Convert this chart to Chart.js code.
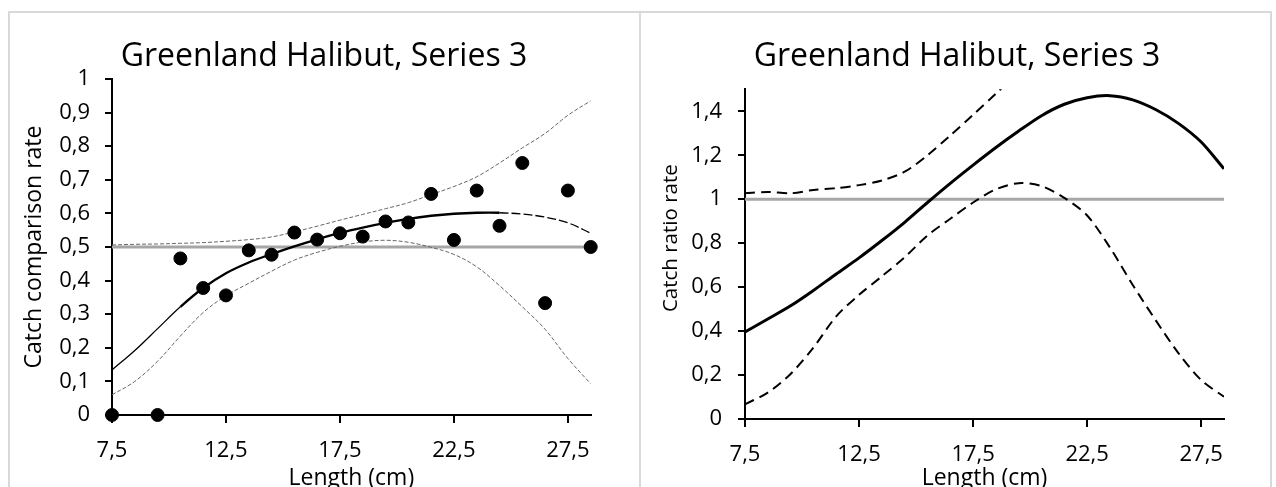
<!DOCTYPE html>
<html><head><meta charset="utf-8">
<script src="https://cdn.jsdelivr.net/npm/chart.js@4.4.1/dist/chart.umd.min.js"></script>
<style>
html,body{margin:0;padding:0;background:#fff;width:1276px;height:487px;overflow:hidden;}
#frame{position:absolute;left:8px;top:11px;width:1260px;height:520px;border:2px solid #d9d9d9;}
#divider{position:absolute;left:639px;top:11px;width:2px;height:520px;background:#d9d9d9;}
canvas{position:absolute;top:13px;}
#c1{left:10px;} #c2{left:643px;}
</style></head><body>
<div id="frame"></div><div id="divider"></div>
<canvas id="c1" width="628" height="474"></canvas>
<canvas id="c2" width="628" height="474"></canvas>
<script>
const chartTitle = 'Greenland Halibut, Series 3';
const xAxisTitle = 'Length (cm)';
const leftYTitle = 'Catch comparison rate';
const rightYTitle = 'Catch ratio rate';

// observed catch comparison rates
const lengthsObs = [7.5, 9.5, 10.5, 11.5, 12.5, 13.5, 14.5, 15.5, 16.5, 17.5, 18.5, 19.5, 20.5, 21.5, 22.5, 23.5, 24.5, 25.5, 26.5, 27.5, 28.5];
const comparisonObs = [0, 0, 0.466, 0.378, 0.356, 0.49, 0.477, 0.543, 0.522, 0.541, 0.531, 0.576, 0.573, 0.658, 0.521, 0.668, 0.563, 0.75, 0.333, 0.668, 0.5];

// curve grid
const lengthGrid = [7.5, 8.5, 9.5, 10.5, 11.5, 12.5, 13.5, 14.5, 15.5, 16.5, 17.5, 18.5, 19.5, 20.5, 21.5, 22.5, 23.5, 24.5, 25.5, 26.5, 27.5, 28.5];
const comparisonFit   = [0.134, 0.192, 0.257, 0.322, 0.378, 0.422, 0.454, 0.479, 0.502, 0.523, 0.542, 0.558, 0.572, 0.584, 0.593, 0.599, 0.602, 0.602, 0.598, 0.589, 0.572, 0.541];
const comparisonUpper = [0.506, 0.508, 0.509, 0.511, 0.513, 0.517, 0.522, 0.53, 0.545, 0.562, 0.58, 0.597, 0.614, 0.632, 0.656, 0.68, 0.709, 0.75, 0.795, 0.838, 0.892, 0.935];
const comparisonLower = [0.06, 0.1, 0.16, 0.235, 0.305, 0.355, 0.392, 0.428, 0.461, 0.484, 0.502, 0.515, 0.52, 0.514, 0.499, 0.478, 0.441, 0.385, 0.322, 0.255, 0.168, 0.093];

const ratioFit   = [0.396, 0.455, 0.515, 0.585, 0.66, 0.733, 0.812, 0.895, 0.985, 1.072, 1.155, 1.235, 1.31, 1.38, 1.432, 1.462, 1.471, 1.452, 1.408, 1.345, 1.26, 1.138];
const ratioUpper = [1.027, 1.033, 1.027, 1.042, 1.05, 1.064, 1.085, 1.125, 1.2, 1.29, 1.384, 1.48, 1.58, null, null, null, null, null, null, null, null, null];
const ratioLower = [0.067, 0.12, 0.205, 0.325, 0.467, 0.565, 0.649, 0.736, 0.835, 0.911, 0.985, 1.045, 1.073, 1.06, 1.006, 0.926, 0.78, 0.61, 0.45, 0.3, 0.177, 0.101];

const xRange = [7.5, 28.5];
const comparisonRef = 0.5;
const ratioRef = 1;

const xTicks = [7.5, 12.5, 17.5, 22.5, 27.5];
const xTickLabels = ['7,5', '12,5', '17,5', '22,5', '27,5'];
const yTicksLeft = [0, 0.1, 0.2, 0.3, 0.4, 0.5, 0.6, 0.7, 0.8, 0.9, 1];
const yTickLabelsLeft = ['0', '0,1', '0,2', '0,3', '0,4', '0,5', '0,6', '0,7', '0,8', '0,9', '1'];
const yTicksRight = [0, 0.2, 0.4, 0.6, 0.8, 1, 1.2, 1.4];
const yTickLabelsRight = ['0', '0,2', '0,4', '0,6', '0,8', '1', '1,2', '1,4'];

const FONT = "'Open Sans', 'DejaVu Sans', sans-serif";
const toXY = (xs, ys) => xs.map((x, i) => ({x: x, y: ys[i]}));

function makeOptions(cfg) {
  return {
    responsive: false,
    animation: false,
    events: [],
    layout: {padding: 0},
    plugins: {
      legend: {display: false},
      tooltip: {enabled: false},
      title: {display: true, text: chartTitle, color: '#000',
        font: {family: FONT, size: 32, weight: 'normal', lineHeight: 1.2},
        padding: {top: cfg.titleTop, bottom: cfg.titleBottom}}
    },
    scales: {
      x: {type: 'linear', min: xRange[0], max: xRange[1], position: 'bottom',
        afterBuildTicks: s => { s.ticks = xTicks.map(v => ({value: v})); },
        afterFit: s => { s.height = cfg.xHeight; },
        ticks: {callback: (v, i) => xTickLabels[i], color: '#000', font: {family: FONT, size: 22}, padding: 15, maxRotation: 0, autoSkip: false},
        grid: {drawOnChartArea: false, drawTicks: true, tickLength: 8, color: '#000', lineWidth: 2},
        border: {display: true, color: '#000', width: 2},
        title: {display: true, text: xAxisTitle, color: '#000', font: {family: FONT, size: 23, lineHeight: 1.2}, padding: {top: 0, bottom: -5}}
      },
      y: {type: 'linear', min: cfg.yMin, max: cfg.yMax, position: 'left',
        afterBuildTicks: s => { s.ticks = cfg.yTicks.map(v => ({value: v})); },
        afterFit: s => { s.width = 102; },
        ticks: {callback: (v, i) => cfg.yLabels[i], color: '#000', font: {family: FONT, size: 22}, padding: cfg.yPad, autoSkip: false},
        grid: {drawOnChartArea: false, drawTicks: true, tickLength: 7, color: '#000', lineWidth: 2},
        border: {display: true, color: '#000', width: 2},
        title: {display: true, text: cfg.yTitle, color: '#000', font: {family: FONT, size: cfg.yTitleSize, lineHeight: 1.2}, padding: {top: cfg.yTitlePad, bottom: 0}}
      },
      yRightSpace: {type: 'linear', position: 'right', display: true, min: 0, max: 1,
        afterFit: s => { s.width = cfg.rightSpace; },
        ticks: {display: false}, grid: {display: false}, border: {display: false}
      }
    }
  };
}

new Chart(document.getElementById('c1'), {
  type: 'line',
  data: {datasets: [
    {label: 'Observed', data: toXY(lengthsObs, comparisonObs), showLine: false, pointRadius: 6.5,
      pointBackgroundColor: '#000', pointBorderColor: '#000', pointBorderWidth: 1, clip: false, xAxisID: 'x', yAxisID: 'y'},
    {label: 'Fit', data: toXY(lengthGrid, comparisonFit), borderColor: '#000', borderWidth: 2, pointRadius: 0, tension: 0.35, xAxisID: 'x', yAxisID: 'y',
      segment: {
        borderWidth: c => (c.p0.parsed.x >= 24.4 || c.p0.parsed.x < 10) ? 1.3 : 2.3,
        borderDash: c => c.p0.parsed.x >= 24.4 ? [9, 3] : undefined
      }},
    {label: 'Upper', data: toXY(lengthGrid, comparisonUpper), borderColor: '#666', borderWidth: 1, borderDash: [4, 2], pointRadius: 0, tension: 0.35, xAxisID: 'x', yAxisID: 'y'},
    {label: 'Lower', data: toXY(lengthGrid, comparisonLower), borderColor: '#666', borderWidth: 1, borderDash: [4, 2], pointRadius: 0, tension: 0.35, xAxisID: 'x', yAxisID: 'y'},
    {label: 'Ref', data: xRange.map(x => ({x: x, y: comparisonRef})), borderColor: '#a6a6a6', borderWidth: 3, pointRadius: 0, xAxisID: 'x', yAxisID: 'y'}
  ]},
  options: makeOptions({titleTop: 25, titleBottom: 2.6, xHeight: 72, yMin: 0, yMax: 1, yTicks: yTicksLeft, yLabels: yTickLabelsLeft,
    yPad: 15, yTitle: leftYTitle, yTitleSize: 23, yTitlePad: 11, rightSpace: 47.3})
});

new Chart(document.getElementById('c2'), {
  type: 'line',
  data: {datasets: [
    {label: 'Fit', data: toXY(lengthGrid, ratioFit), borderColor: '#000', borderWidth: 3, pointRadius: 0, tension: 0.3, xAxisID: 'x', yAxisID: 'y'},
    {label: 'Upper', data: toXY(lengthGrid, ratioUpper), borderColor: '#000', borderWidth: 2, borderDash: [10, 6], pointRadius: 0, tension: 0.3, xAxisID: 'x', yAxisID: 'y'},
    {label: 'Lower', data: toXY(lengthGrid, ratioLower), borderColor: '#000', borderWidth: 2, borderDash: [10, 6], pointRadius: 0, tension: 0.3, xAxisID: 'x', yAxisID: 'y'},
    {label: 'Ref', data: xRange.map(x => ({x: x, y: ratioRef})), borderColor: '#a6a6a6', borderWidth: 3, pointRadius: 0, xAxisID: 'x', yAxisID: 'y'}
  ]},
  options: makeOptions({titleTop: 25, titleBottom: 12.9, xHeight: 68, yMin: 0, yMax: 1.5, yTicks: yTicksRight, yLabels: yTickLabelsRight,
    yPad: 16, yTitle: '      ' + rightYTitle, yTitleSize: 20.5, yTitlePad: 15.4, rightSpace: 47})
});
</script>
</body></html>
